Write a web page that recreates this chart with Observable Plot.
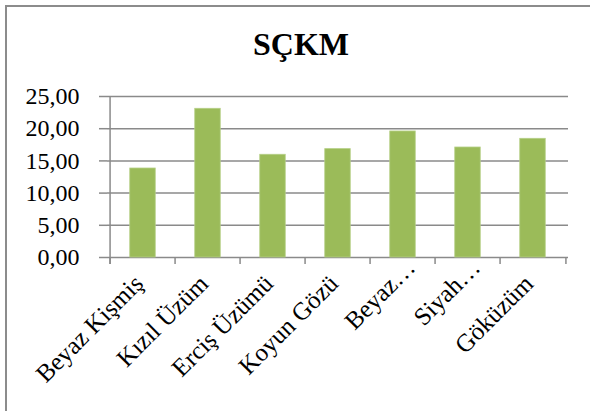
<!DOCTYPE html>
<html>
<head>
<meta charset="utf-8">
<script src="https://cdn.jsdelivr.net/npm/d3@7"></script>
<script src="https://cdn.jsdelivr.net/npm/@observablehq/plot@0.6"></script>
<style>
  html, body { margin: 0; padding: 0; background: #fff; }
  #wrap { position: relative; width: 590px; height: 411px; overflow: hidden; }
  #frame {
    position: absolute; left: 5px; top: 5px; width: 600px; height: 420px;
    border-top: 2px solid #8c8c8c; border-left: 2px solid #8c8c8c;
  }
  #title {
    position: absolute; left: 5px; width: 592px; top: 26px;
    text-align: center; font-family: "Liberation Serif", "Times New Roman", serif;
    font-weight: bold; font-size: 32px; line-height: 36px; color: #000;
  }
  #chart { position: absolute; left: 0; top: 0; }
</style>
</head>
<body>
<div id="wrap">
  <div id="frame"></div>
  <div id="title">SÇKM</div>
  <div id="chart"></div>
</div>
<script>
// Grape varieties and their SÇKM values
const categories = ["Beyaz Kişmiş", "Kızıl Üzüm", "Erciş Üzümü", "Koyun Gözü", "Beyaz…", "Siyah…", "Göküzüm"];
const values = [13.82, 23.09, 15.95, 16.83, 19.57, 17.08, 18.43];
const yTicks = [0, 5, 10, 15, 20, 25];

const data = categories.map((c, i) => ({category: c, value: values[i]}));

// shortened names sit a little higher along the slant than full names
const shortNames = categories.filter(c => c.endsWith("…"));
const fullNames = categories.filter(c => !c.endsWith("…"));

const W = 590, H = 411;
const mL = 107, mR = 22, mT = 96, mB = 154;
const bw = (W - mL - mR) / categories.length;
const gray = "#8a8a8a";
const font = "Liberation Serif, Times New Roman, serif";

const chart = Plot.plot({
  width: W,
  height: H,
  marginLeft: mL,
  marginRight: mR,
  marginTop: mT,
  marginBottom: mB,
  style: {fontFamily: font, fontSize: "25px", color: "#000", background: "transparent", overflow: "visible"},
  x: {domain: categories, padding: 0},
  y: {domain: [0, 25]},
  marks: [
    // horizontal gridlines
    Plot.ruleY(yTicks, {y: d => d, stroke: gray, strokeWidth: 1.5}),
    // vertical axis line
    Plot.ruleX([categories[0]], {x: d => d, dx: -bw / 2, stroke: gray, strokeWidth: 1.5, insetBottom: -7}),
    // category boundary ticks
    Plot.ruleX(categories, {x: d => d, dx: -bw / 2, y1: 0, y2: 0, insetBottom: -7, stroke: gray, strokeWidth: 1.5}),
    Plot.ruleX([categories[categories.length - 1]], {x: d => d, dx: bw / 2, y1: 0, y2: 0, insetBottom: -7, stroke: gray, strokeWidth: 1.5}),
    // bars
    Plot.barY(data, {
      x: "category", y: "value",
      fill: "#9bbb59", stroke: "#b5cf86", strokeWidth: 0.8,
      insetLeft: bw * 0.3, insetRight: bw * 0.3
    }),
    Plot.axisY({
      ticks: yTicks, tickSize: 8, tickPadding: 20, stroke: gray, strokeWidth: 1.5,
      tickFormat: d => d.toFixed(2).replace(".", ","), label: null, fontSize: 24
    }),
    Plot.axisX({
      ticks: fullNames, tickSize: 0, tickRotate: -45, tickPadding: 22, dx: -4, label: null, fontSize: 25
    }),
    Plot.axisX({
      ticks: shortNames, tickSize: 0, tickRotate: -45, tickPadding: 22, dx: 8, dy: -16, label: null, fontSize: 25
    })
  ]
});

document.getElementById("chart").appendChild(chart);
</script>
</body>
</html>
